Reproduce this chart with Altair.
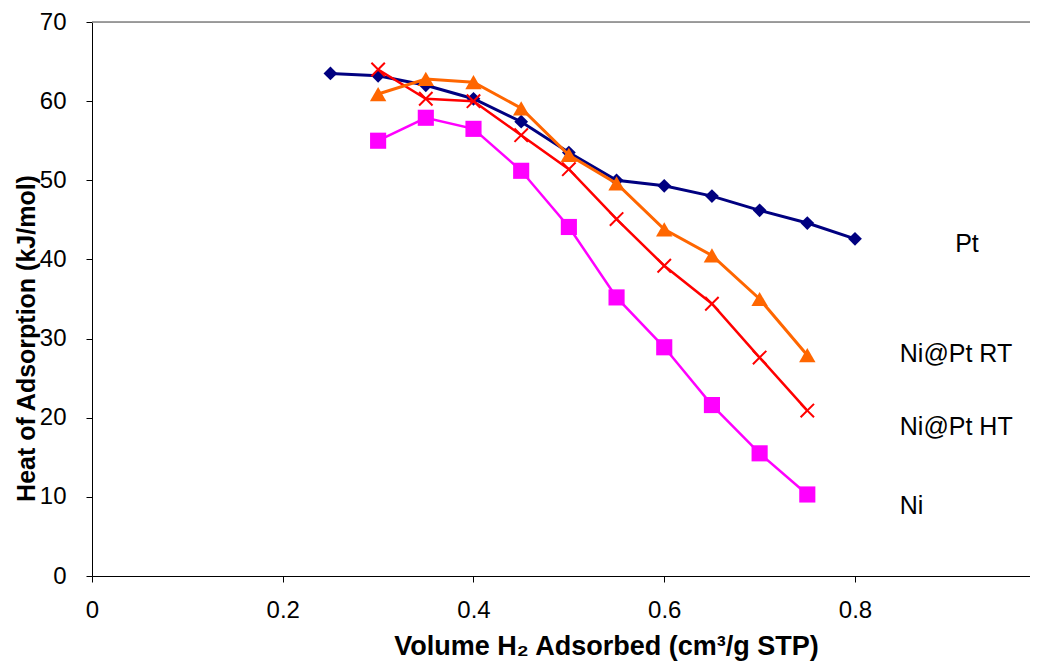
import altair as alt
import pandas as pd

# Data
x_pt = [0.25, 0.30, 0.35, 0.40, 0.45, 0.50, 0.55, 0.60, 0.65, 0.70, 0.75, 0.80]
y_pt = [63.5, 63.2, 62.0, 60.3, 57.4, 53.5, 50.0, 49.3, 48.0, 46.2, 44.6, 42.6]

x_ni_series = [0.30, 0.35, 0.40, 0.45, 0.50, 0.55, 0.60, 0.65, 0.70, 0.75]
y_rt = [60.9, 62.8, 62.4, 59.1, 53.2, 49.6, 43.8, 40.5, 35.0, 27.9]
y_ht = [64.0, 60.3, 60.0, 55.7, 51.4, 45.1, 39.2, 34.4, 27.6, 20.9]
y_ni = [55.0, 57.9, 56.5, 51.2, 44.1, 35.2, 28.9, 21.6, 15.5, 10.3]

series_names = ["Pt", "Ni", "Ni@Pt HT", "Ni@Pt RT"]
series_colors = ["#000080", "#FF00FF", "#FF0000", "#FF6600"]

label_texts = ["Pt", "Ni@Pt RT", "Ni@Pt HT", "Ni"]
label_x = [0.905, 0.847, 0.847, 0.847]
label_y = [42.0, 28.0, 18.8, 8.9]

x_ticks = [0, 0.2, 0.4, 0.6, 0.8]
y_ticks = [0, 10, 20, 30, 40, 50, 60, 70]

W, H = 938, 554
X_MAX = 0.9835

rows = []
for xv, yv in zip(x_pt, y_pt):
    rows.append({"series": "Pt", "x": xv, "y": yv})
for name, ys in [("Ni", y_ni), ("Ni@Pt HT", y_ht), ("Ni@Pt RT", y_rt)]:
    for xv, yv in zip(x_ni_series, ys):
        rows.append({"series": name, "x": xv, "y": yv})
df = pd.DataFrame(rows)

labels_df = pd.DataFrame({"text": label_texts, "x": label_x, "y": label_y})

xscale = alt.Scale(domain=[0, X_MAX], nice=False, zero=True)
yscale = alt.Scale(domain=[0, 70], nice=False)

x_axis = alt.Axis(
    values=x_ticks,
    labelExpr="datum.value == 0 ? '0' : format(datum.value, '.1f')",
    title="Volume H₂ Adsorbed (cm³/g STP)",
    grid=False, domainColor="black", tickColor="black", tickSize=6,
    labelFontSize=24, labelFont="Liberation Sans", labelColor="black",
    labelPadding=16, labelFlush=False,
    titleFontSize=27, titleFont="Liberation Sans", titleFontWeight="bold",
    titleColor="black", titleX=514, titleY=78, titleAlign="center",
    titleBaseline="alphabetic",
)
y_axis = alt.Axis(
    values=y_ticks,
    title="Heat of Adsorption (kJ/mol)",
    grid=False, domainColor="black", tickColor="black", tickSize=6,
    labelFontSize=24, labelFont="Liberation Sans", labelColor="black",
    labelPadding=20, labelFlush=False,
    titleFontSize=25, titleFont="Liberation Sans", titleFontWeight="bold",
    titleColor="black", titleAngle=270, titleX=-66, titleY=316,
    titleAlign="center", titleBaseline="middle",
)

def X(field="x"):
    return alt.X(f"{field}:Q", scale=xscale, axis=x_axis)

def Y(field="y"):
    return alt.Y(f"{field}:Q", scale=yscale, axis=y_axis)

base = alt.Chart(df)

shapes = {
    "Pt": ("diamond", 190, True),
    "Ni": ("square", 260, True),
    "Ni@Pt HT": ("M-1,-1L1,1M-1,1L1,-1", 180, False),
    "Ni@Pt RT": ("triangle-up", 270, True),
}
widths = {"Pt": 3, "Ni": 2.5, "Ni@Pt HT": 2.5, "Ni@Pt RT": 3}

layers = []
for name, col in zip(series_names, series_colors):
    sub = base.transform_filter(alt.datum.series == name)
    layers.append(sub.mark_line(color=col, strokeWidth=widths[name]).encode(x=X(), y=Y()))
    shp, sz, filled = shapes[name]
    if filled:
        pm = sub.mark_point(shape=shp, size=sz, filled=True, color=col, opacity=1)
    else:
        pm = sub.mark_point(shape=shp, size=sz, filled=False, color=col, strokeWidth=2, opacity=1)
    layers.append(pm.encode(x=X(), y=Y()))

text_layer = alt.Chart(labels_df).mark_text(
    align="left", baseline="middle", fontSize=25, font="Liberation Sans", color="black"
).encode(x=X(), y=Y(), text="text:N")
layers.append(text_layer)

# top border line of the plot area
layers.append(
    alt.Chart(pd.DataFrame({"a": [0]})).mark_rule(color="#808080", strokeWidth=1.5).encode(
        x=alt.value(0), x2=alt.value(W), y=alt.value(0)
    )
)

chart = alt.layer(*layers).properties(
    width=W, height=H,
    autosize=alt.AutoSizeParams(type="none"),
    padding={"left": 84, "top": 14, "right": 0, "bottom": 85},
).configure_view(stroke=None).configure(background="white")

chart.save("out.html", embed_options={"renderer": "svg", "actions": False})
